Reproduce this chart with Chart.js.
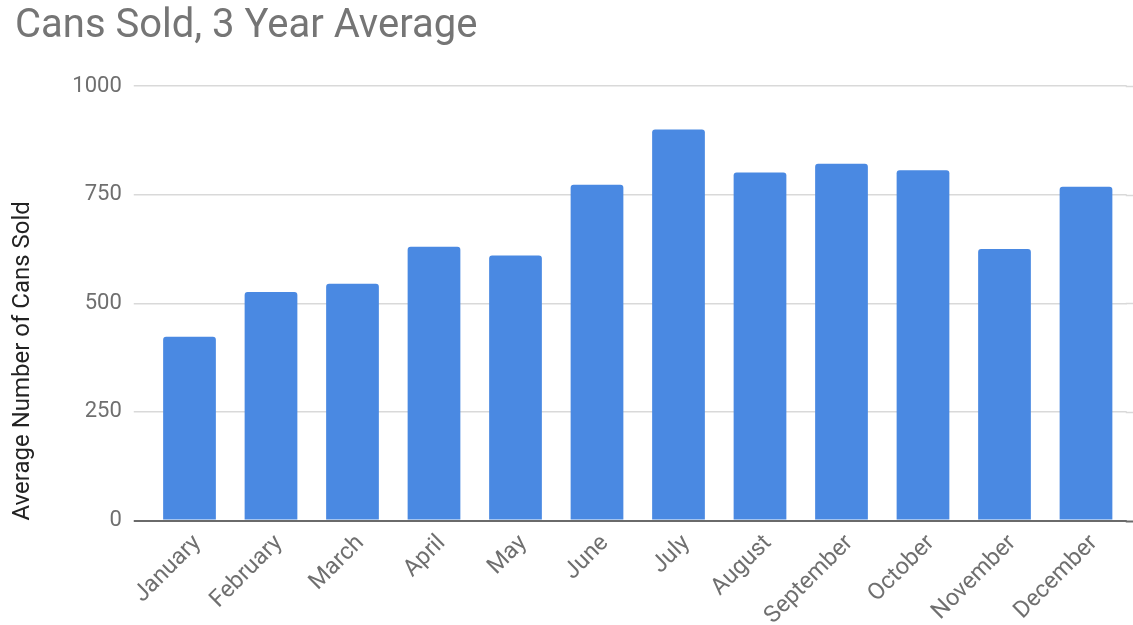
<!DOCTYPE html>
<html>
<head>
<meta charset="utf-8">
<title>Cans Sold, 3 Year Average</title>
<script src="https://cdn.jsdelivr.net/npm/chart.js@4.4.1/dist/chart.umd.min.js"></script>
<style>
  html, body { margin: 0; padding: 0; background: #ffffff; }
  #wrap { width: 1133px; height: 625px; }
</style>
</head>
<body>
<div id="wrap"><canvas id="chart" width="1133" height="625"></canvas></div>
<script>
// Monthly average of cans sold over three years
const months = ['January', 'February', 'March', 'April', 'May', 'June',
                'July', 'August', 'September', 'October', 'November', 'December'];
const avgCansSold = [423, 526, 545, 630, 610, 773, 900, 801, 821, 806, 625, 768];
const yTickValues = [0, 250, 500, 750, 1000];

const chartTitle = 'Cans Sold, 3 Year Average';
const yAxisTitle = 'Average Number of Cans Sold';

const BAR_BLUE = '#4a89e2';
const GRID_GREY = '#d9d9d9';
const ZERO_GREY = '#6a6a6a';
const TEXT_GREY = '#6f6f6f';
const FONT = 'Roboto, "Noto Sans", sans-serif';

const gridColour = (ctx) => (ctx.tick && ctx.tick.value === 0 ? ZERO_GREY : GRID_GREY);
const gridWidth = (ctx) => (ctx.tick && ctx.tick.value === 0 ? 2 : 1.5);

// Carry the horizontal grid lines on to the right edge of the canvas
const gridToEdge = {
  id: 'gridToEdge',
  beforeDatasetsDraw(chart) {
    const { ctx, chartArea, scales: { y } } = chart;
    ctx.save();
    y.ticks.forEach((t) => {
      const py = Math.round(y.getPixelForValue(t.value)) + 0.5;
      ctx.strokeStyle = t.value === 0 ? ZERO_GREY : GRID_GREY;
      ctx.lineWidth = t.value === 0 ? 2 : 1.5;
      ctx.beginPath();
      ctx.moveTo(chartArea.right - 1, py);
      ctx.lineTo(chart.width, py);
      ctx.stroke();
    });
    ctx.restore();
  }
};

new Chart(document.getElementById('chart'), {
  type: 'bar',
  data: {
    labels: months,
    datasets: [{
      label: yAxisTitle,
      data: avgCansSold,
      backgroundColor: BAR_BLUE,
      borderWidth: 0,
      borderRadius: 3,
      borderSkipped: 'start',
      categoryPercentage: 1,
      barPercentage: 0.647
    }]
  },
  options: {
    responsive: false,
    animation: false,
    devicePixelRatio: 1,
    layout: { padding: { left: 15, right: 6.25, top: 0, bottom: 0 } },
    plugins: {
      legend: { display: false },
      tooltip: { enabled: false },
      title: {
        display: true,
        text: chartTitle,
        align: 'start',
        color: '#757575',
        font: { family: FONT, size: 40, weight: 'normal', lineHeight: 1.2 },
        padding: { top: 3, bottom: 35 }
      }
    },
    scales: {
      x: {
        grid: { display: false, drawTicks: false },
        border: { display: false },
        ticks: {
          autoSkip: false,
          maxRotation: 45,
          minRotation: 45,
          padding: 9,
          labelOffset: 8,
          color: TEXT_GREY,
          font: { family: FONT, size: 23.5 }
        },
        afterFit(scale) { scale.height = 104.5; }
      },
      y: {
        min: 0,
        max: 1000,
        afterBuildTicks(scale) { scale.ticks = yTickValues.map((v) => ({ value: v })); },
        grid: {
          color: gridColour,
          lineWidth: gridWidth,
          drawTicks: true,
          tickLength: 15,
          tickColor: gridColour,
          tickWidth: gridWidth
        },
        border: { display: false },
        ticks: {
          padding: 12,
          color: TEXT_GREY,
          font: { family: FONT, size: 22 },
          callback: (v) => String(v)
        },
        title: {
          display: true,
          text: yAxisTitle,
          align: 'start',
          color: '#222222',
          font: { family: FONT, size: 24, lineHeight: 1.2 },
          padding: { top: -6, bottom: 0 }
        },
        afterFit(scale) { scale.width = 133.75; }
      }
    }
  },
  plugins: [gridToEdge]
});
</script>
</body>
</html>
